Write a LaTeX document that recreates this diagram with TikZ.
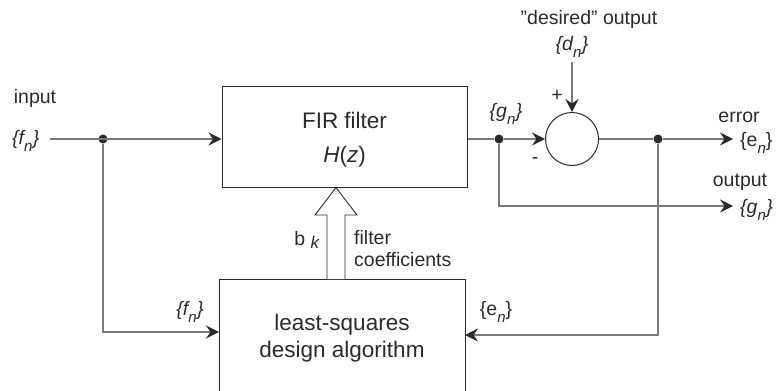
\documentclass[tikz,border=0pt]{standalone}
\usepackage{fontspec}
\setmainfont{Liberation Sans}
\usetikzlibrary{arrows.meta}
\definecolor{wire}{HTML}{7A7A7A}
\definecolor{ink}{HTML}{2B2B2B}
\tikzset{
  block/.style={draw=ink, line width=1pt, inner sep=0pt},
  wireline/.style={draw=wire, line width=1.4pt},
  tip/.style={-{Stealth[length=13pt,width=13pt,inset=4.5pt,color=ink]}},
  lbl/.style={inner sep=0pt, text=ink, font=\fontsize{19.5}{22}\selectfont},
  big/.style={text=ink, font=\fontsize{22.5}{27}\selectfont, align=center},
  junction/.style={circle, fill=ink, inner sep=0pt, minimum size=9pt},
}
% index set low, as in {f_n}
\newcommand{\idx}[1]{\raisebox{-0.32em}{\fontsize{15}{15}\selectfont\textit{#1}}}
\newcommand{\seq}[2]{\{#1\idx{#2}\kern0.5pt\}}
\begin{document}
\begin{tikzpicture}[x=1pt, y=-1pt]
\useasboundingbox (0,0) rectangle (782,391);
\clip (0,0) rectangle (782,391);

% blocks
\node[block, minimum width=245pt, minimum height=101pt] (fir) at (344.5,136.5) {};
\node[big] at (344.5,120) {FIR filter};
\node[big] at (344.5,157) {\textit{H}(\textit{z})};
\draw[ink, line width=1pt] (219,400) -- (219,279) -- (465,279) -- (465,400);
\coordinate (lsq) at (342,279);
\node[big] (lsqtext) at (342,338) {least-squares\\design algorithm};
\coordinate (lsqW) at (219,332);
\coordinate (lsqE) at (465,335);

% summing junction
\node[draw=ink, line width=1pt, circle, minimum size=53pt, inner sep=0pt] (sum) at (572,139) {};

% input path
\node[lbl] (inlbl) at (35,98) {input};
\node[lbl, anchor=west] (fin) at (12,141) {\textit{\seq{f}{n}}};
\node[junction] (j1) at (103,139) {};
\draw[wireline, tip] (50,139) -- (fir.west |- j1);
\draw[wireline, tip] (j1) |- (lsqW);
\node[lbl] (fin2) at (190,312) {\textit{\seq{f}{n}}};

% filter output to summing junction
\node[junction] (j2) at (499,139) {};
\draw[wireline] (fir.east |- j2) -- (j2);
\draw[wireline, tip] (j2) -- (sum.west);
\node[lbl] (gn) at (506,114) {\textit{\seq{g}{n}}};
\node[lbl] (minus) at (535,161) {-};

% desired output
\node[lbl] (deslbl) at (589,19) {\symbol{34}desired\symbol{34} output};
\node[lbl] (dn) at (572,47) {\textit{\seq{d}{n}}};
\draw[wireline, tip] (572,62) -- (sum.north);
\node[lbl] (plus) at (557,96) {+};

% error output
\node[junction] (j3) at (658,139) {};
\draw[wireline] (sum.east) -- (j3);
\coordinate (errtip) at (733,139);
\draw[wireline, tip] (j3) -- (errtip);
\node[lbl] (errlbl) at (739,117) {error};
\node[lbl, anchor=west] (en) at (740,143) {\{e\idx{n}\}};

% filter output
\coordinate (outtip) at (733,206);
\draw[wireline, tip] (j2) |- (outtip);
\node[lbl] (outlbl) at (740,182) {output};
\node[lbl, anchor=west] (gn2) at (740,210) {\textit{\seq{g}{n}}};

% error fed back
\draw[wireline, tip] (j3) |- (lsqE);
\node[lbl] (en2) at (496,312) {\{e\idx{n}\}};

% coefficient transfer (hollow arrow)
\draw[ink, line width=0.9pt, fill=white]
  (327,279) -- (327,215) -- (315,215) -- (336,187.5) -- (357,215) -- (345,215) -- (345,279);
\node[lbl] (bk) at (307,240) {b \raisebox{-0.15em}{\fontsize{17}{17}\selectfont\textit{k}}};
\node[lbl, align=left, anchor=west] (coef) at (354,249) {filter\\coefficients};
\end{tikzpicture}
\end{document}
